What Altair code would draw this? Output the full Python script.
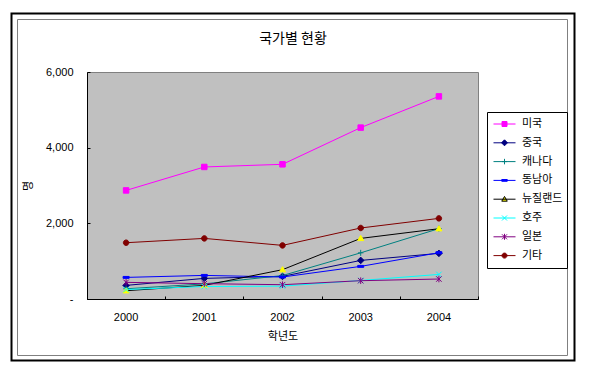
import altair as alt
import pandas as pd

years = ["2000", "2001", "2002", "2003", "2004"]
series = ["미국", "중국", "캐나다", "동남아", "뉴질랜드", "호주", "일본", "기타"]
v_us = [2870, 3490, 3560, 4530, 5355]
v_cn = [360, 545, 598, 1020, 1206]
v_ca = [270, 400, 620, 1220, 1860]
v_sea = [571, 624, 581, 862, 1224]
v_nz = [219, 360, 775, 1602, 1858]
v_au = [250, 330, 340, 490, 650]
v_jp = [440, 405, 378, 484, 528]
v_etc = [1488, 1602, 1417, 1877, 2131]
all_values = [v_us, v_cn, v_ca, v_sea, v_nz, v_au, v_jp, v_etc]
title_text = "국가별 현황"

line_colors = ["#FF00FF", "#000080", "#008080", "#0000FF", "#000000", "#00FFFF", "#800080", "#800000"]
marker_colors = ["#FF00FF", "#000080", "#008080", "#0000FF", "#FFFF00", "#00FFFF", "#800080", "#800000"]

SQ = "M-1,-1H1V1H-1Z"
DI = "M0,-1.2L1.2,0L0,1.2L-1.2,0Z"
TR = "M0,-1.1L1.1,0.8H-1.1Z"
PL = "M-1,0H1M0,-1.1V1.1"
DA = "M-1.1,-0.35H1.1V0.35H-1.1Z"
XX = "M-1,-1L1,1M-1,1L1,-1"
ST = "M-1,-1L1,1M-1,1L1,-1M0,-1.2V1.2"
CI = "M-1,0A1,1,0,1,1,1,0A1,1,0,1,1,-1,0Z"
marker_shapes = [SQ, DI, PL, DA, TR, XX, ST, CI]
LN = "M-4.4,0H4.4"
legend_shapes = [LN + s for s in marker_shapes]

rows = []
for i, s in enumerate(series):
    for j, y in enumerate(years):
        rows.append({"year": y, "series": s, "value": all_values[i][j],
                     "lineColor": line_colors[i], "markerColor": marker_colors[i],
                     "markerShape": marker_shapes[i]})
df = pd.DataFrame(rows)

W, H = 391, 227
NUM_FONT = "Liberation Sans"
KR_FONT = "Noto Sans CJK KR"

xscale = alt.Scale(type="band", paddingInner=0, paddingOuter=0, domain=years)
yscale = alt.Scale(domain=[0, 6000])

x_main = alt.X("year:O", scale=xscale, axis=alt.Axis(
    orient="bottom", title="학년도", labelAngle=0, ticks=False, domain=True,
    domainColor="black", labelFont=NUM_FONT, labelFontSize=11, labelColor="black",
    labelPadding=12, titleFont=KR_FONT, titleFontSize=11, titleFontWeight="normal",
    titleColor="black", titlePadding=8, grid=False))
y_main = alt.Y("value:Q", scale=yscale, axis=alt.Axis(
    orient="left", title="명", values=[0, 2000, 4000, 6000], ticks=False, domain=True,
    domainColor="black", labelFont=NUM_FONT, labelFontSize=11, labelColor="black",
    labelPadding=14, labelExpr="datum.value == 0 ? '-' : format(datum.value, ',')",
    titleFont=KR_FONT, titleFontSize=11, titleFontWeight="normal", titleColor="black",
    titlePadding=12, grid=False))

x_tick = alt.X("year:O", scale=xscale, axis=alt.Axis(
    orient="bottom", title=None, labels=False, domain=False, ticks=True, tickSize=3,
    tickColor="black", tickBand="extent", offset=-3, grid=False))
y_tick = alt.Y("value:Q", scale=yscale, axis=alt.Axis(
    orient="left", title=None, labels=False, domain=False, ticks=True, tickSize=3,
    tickColor="black", values=[0, 2000, 4000, 6000], offset=-3, grid=False))

lines = alt.Chart(df).mark_line(strokeWidth=1).encode(
    x=x_main, y=y_main, detail="series:N",
    stroke=alt.Stroke("lineColor:N", scale=None))

points = alt.Chart(df).mark_point(filled=True, size=30, strokeWidth=1, opacity=1).encode(
    x=x_tick, y=y_tick,
    fill=alt.Fill("markerColor:N", scale=None),
    stroke=alt.Stroke("markerColor:N", scale=None),
    shape=alt.Shape("markerShape:N", scale=None))

leg = alt.Legend(title=None, orient="none", legendX=400, legendY=40, padding=4,
                 strokeColor="black", fillColor="white", symbolSize=25,
                 symbolStrokeWidth=1, symbolOffset=8, labelOffset=12,
                 clipHeight=16, rowPadding=2.8, labelFont=KR_FONT, labelFontSize=11,
                 labelColor="black")

legend_layer = alt.Chart(df).transform_filter("false").mark_point(
    filled=True, strokeWidth=1).encode(
    x=alt.X("year:O", scale=xscale, axis=None),
    y=alt.Y("value:Q", scale=yscale, axis=None),
    fill=alt.Fill("series:N", scale=alt.Scale(domain=series, range=marker_colors), legend=leg),
    stroke=alt.Stroke("series:N", scale=alt.Scale(domain=series, range=line_colors), legend=leg),
    shape=alt.Shape("series:N", scale=alt.Scale(domain=series, range=legend_shapes), legend=leg))

frame_df = pd.DataFrame({"k": [0]})
outer = alt.Chart(frame_df).mark_rect(fill="transparent", stroke="black", strokeWidth=2).encode(
    x=alt.value(-75.5), x2=alt.value(487.5), y=alt.value(-58.5), y2=alt.value(288.5))
inner = alt.Chart(frame_df).mark_rect(fill="transparent", stroke="#808080", strokeWidth=1).encode(
    x=alt.value(-69.5), x2=alt.value(480.5), y=alt.value(-52.5), y2=alt.value(283.5))
title_mark = alt.Chart(pd.DataFrame({"t": [title_text]})).mark_text(
    font=KR_FONT, fontSize=14, color="black", align="center", baseline="middle").encode(
    text="t:N", x=alt.value(206), y=alt.value(-33))

chart = alt.layer(outer, inner, lines, points, legend_layer, title_mark).resolve_axis(
    x="independent", y="independent"
).properties(
    width=W, height=H,
    padding={"left": 79, "top": 64, "right": 104, "bottom": 66},
    autosize="none",
    background="white",
).configure_view(fill="#C0C0C0", stroke="#808080", strokeWidth=1)

chart.save("out.html", embed_options={"renderer": "svg", "actions": False})
